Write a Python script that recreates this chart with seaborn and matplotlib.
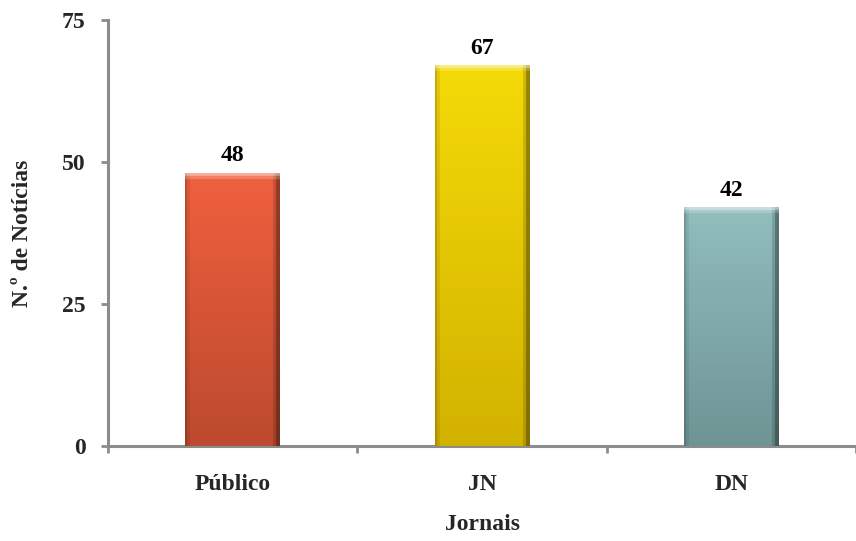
import numpy as np
import pandas as pd
import matplotlib
matplotlib.use("Agg")
import matplotlib.pyplot as plt
import matplotlib.colors as mcolors
import seaborn as sns

categories = ["Público", "JN", "DN"]
values = [48, 67, 42]
top_colors = ["#F0603E", "#F5DA08", "#92BEBE"]
bottom_colors = ["#BC4A2E", "#D2B200", "#6E9494"]
y_ticks = [0, 25, 50, 75]
x_label = "Jornais"
y_label = "N.º de Notícias"

sns.set_theme(style="white")
plt.rcParams["font.family"] = ["Liberation Serif", "DejaVu Serif"]
plt.rcParams["font.weight"] = "bold"

FS = 17

df = pd.DataFrame({"Jornal": categories, "Valor": values})

fig = plt.figure(figsize=(8.56, 5.41), dpi=100)
ax = fig.add_axes([0.1262, 0.1756, 1.0 - 0.1262, 0.963 - 0.1756])

sns.barplot(data=df, x="Jornal", y="Valor", hue="Jornal", palette=top_colors,
            width=0.38, legend=False, ax=ax, saturation=1)

ax.set_ylim(0, 75)
ax.set_xlim(-0.5, 2.474)

# gradient overlay on each bar
for patch, c_top, c_bot in zip(ax.patches, top_colors, bottom_colors):
    x0, y0 = patch.get_x(), patch.get_y()
    w, h = patch.get_width(), patch.get_height()
    t = np.array(mcolors.to_rgb(c_top))
    b = np.array(mcolors.to_rgb(c_bot))
    ny, nx = 400, 96
    yy = np.linspace(0, 1, ny)[:, None, None]  # 0 top -> 1 bottom
    img = t * (1 - yy) + b * yy
    img = np.repeat(img, nx, axis=1)
    xx = np.linspace(0, 1, nx)
    shade = np.ones(nx)
    shade[xx > 0.965] = 0.62
    shade[(xx > 0.93) & (xx <= 0.965)] = 0.85
    shade[xx < 0.02] = 0.8
    shade[(xx >= 0.02) & (xx < 0.05)] = 0.92
    img = img * shade[None, :, None]
    # light bevel at the top
    depth = (np.linspace(0, 1, ny)) * h
    hl = depth < 0.45
    img[hl] = np.clip(img[hl] * 0.5 + 0.5, 0, 1)
    hl2 = (depth >= 0.45) & (depth < 1.0)
    img[hl2] = np.clip(img[hl2] * 0.8 + 0.2, 0, 1)
    img = np.clip(img, 0, 1)
    im = ax.imshow(img, extent=[x0, x0 + w, y0, y0 + h], aspect="auto",
                   origin="upper", zorder=3, interpolation="bilinear")
    im.set_clip_path(patch)
    patch.set_edgecolor("none")

ax.set_xlim(-0.5, 2.474)
ax.set_ylim(0, 75)

# value labels
for patch, v in zip(ax.patches, values):
    ax.annotate(f"{v}", (patch.get_x() + patch.get_width() / 2, patch.get_height()),
                xytext=(0, 5), textcoords="offset points", ha="center", va="bottom",
                fontsize=FS, fontweight="bold", color="black", zorder=5)

gray = "#8C8C8C"
sns.despine(ax=ax, top=True, right=True)
for s in ["left", "bottom"]:
    ax.spines[s].set_color(gray)
    ax.spines[s].set_linewidth(2.2)

ax.set_yticks(y_ticks)
ax.set_yticklabels([str(t) for t in y_ticks], fontsize=FS, fontweight="bold")
ax.tick_params(axis="y", which="major", direction="out", length=5, width=2,
               color=gray, left=True, pad=11)

ax.set_xticks(range(len(categories)))
ax.set_xticklabels(categories, fontsize=FS, fontweight="bold")
ax.set_xticks([-0.5, 0.5, 1.5, 2.5], minor=True)
ax.tick_params(axis="x", which="major", length=0, pad=20)
ax.tick_params(axis="x", which="minor", direction="out", length=5, width=2,
               color=gray, bottom=True)

ax.set_xlabel(x_label, fontsize=FS, fontweight="bold", labelpad=14)
ax.set_ylabel(y_label, fontsize=FS, fontweight="bold", labelpad=21)

fig.savefig("out.png", dpi=100)
